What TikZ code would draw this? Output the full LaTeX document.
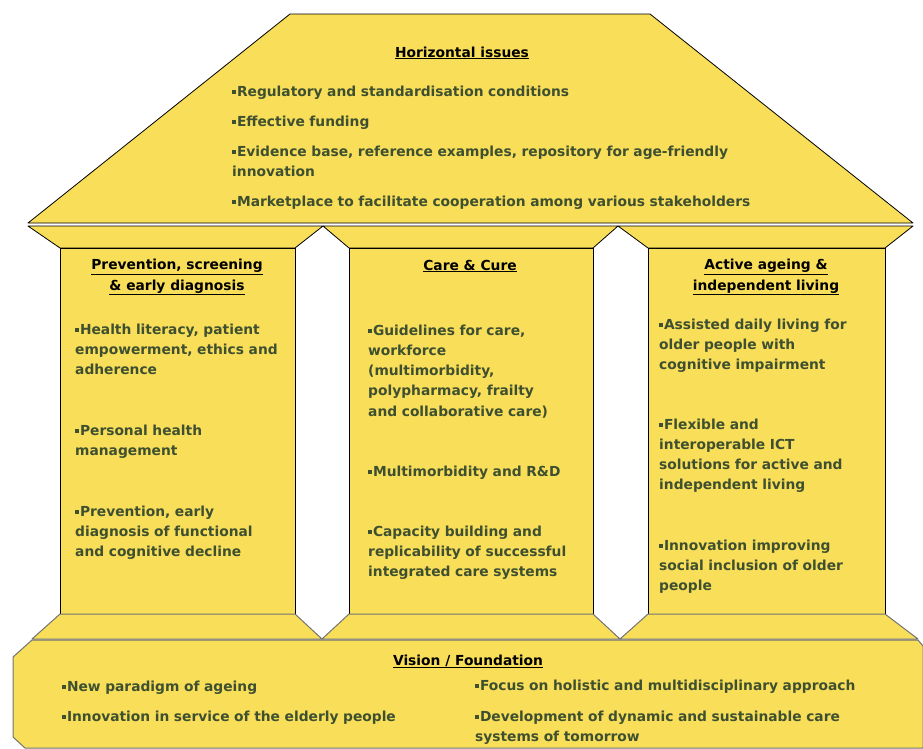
\documentclass[tikz,border=0pt]{standalone}
\usepackage{fontspec}
\setmainfont{DejaVu Sans}
\definecolor{templefill}{RGB}{249,222,89}
\definecolor{itemgreen}{RGB}{62,80,48}
\newcommand{\sqbul}{\rule[0.15em]{0.25em}{0.25em}\hspace{0.1em}}

\begin{document}
\begin{tikzpicture}[x=1pt, y=-1pt,
        part/.style={fill=templefill, draw=black, line width=0.8pt, line join=round},
        base/.style={fill=templefill, draw=black!55, line width=1pt, line join=round}]
        \useasboundingbox (0,0) rectangle (923,748);

        % roof
        \draw[part] (290,14) -- (650,14) -- (913,223) -- (28,223) -- cycle;
        \draw[black!45, line width=0.8pt] (28,226) -- (913,226);
        % capitals
        \draw[part] (28,226) -- (323,226) -- (295,248) -- (60,248) -- cycle;
        \draw[part] (323,226) -- (618,226) -- (593,248) -- (349,248) -- cycle;
        \draw[part] (618,226) -- (913,226) -- (885,248) -- (648,248) -- cycle;
        % pillars
        \draw[part] (60,248) rectangle (295,614);
        \draw[part] (349,248) rectangle (593,614);
        \draw[part] (648,248) rectangle (885,614);
        % plinths
        \draw[base] (60,614) -- (295,614) -- (322,639) -- (32,639) -- cycle;
        \draw[base] (349,614) -- (593,614) -- (620,639) -- (322,639) -- cycle;
        \draw[base] (648,614) -- (885,614) -- (918,639) -- (620,639) -- cycle;
        % foundation
        \draw[base] (32,640) -- (918,640) -- (923,646) -- (923,748) -- (25,748)
            -- (13,737) -- (13,657) -- cycle;

        \begin{scope}[every node/.style={inner sep=0pt, anchor=base, align=center,
                font={\fontsize{13.8pt}{20.5pt}\selectfont\bfseries}, text=black}]
            \node (roofhead) at (462,57) {\underline{Horizontal issues}};
            \node (prevhead) at (177,290) {\underline{Prevention, screening}\\\underline{\& early diagnosis}};
            \node (carehead) at (470,270) {\underline{Care \& Cure}};
            \node (activehead) at (766,290) {\underline{Active ageing \&}\\\underline{independent living}};
            \node (basehead) at (468,665) {\underline{Vision / Foundation}};
        \end{scope}

        \begin{scope}[every node/.style={inner sep=0pt, anchor=base west, align=left,
                text width=600pt, font={\fontsize{13.8pt}{20.3pt}\selectfont\bfseries},
                text=itemgreen}]
            \node (reg) at (232,96) {\sqbul Regulatory and standardisation conditions};
            \node (fund) at (232,126) {\sqbul Effective funding};
            \node (evid) at (232,156) {\sqbul Evidence base, reference examples, repository for age-friendly\\innovation};
            \node (market) at (232,206) {\sqbul Marketplace to facilitate cooperation among various stakeholders};

            \node (lit) at (75,334) {\sqbul Health literacy, patient\\empowerment, ethics and\\adherence};
            \node (phm) at (75,435) {\sqbul Personal health\\management};
            \node (early) at (75,516) {\sqbul Prevention, early\\diagnosis of functional\\and cognitive decline};

            \node (guide) at (368,335) {\sqbul Guidelines for care,\\workforce\\(multimorbidity,\\polypharmacy, frailty\\and collaborative care)};
            \node (rnd) at (368,476) {\sqbul Multimorbidity and R\&D};
            \node (capa) at (368,536) {\sqbul Capacity building and\\replicability of successful\\integrated care systems};

            \node (daily) at (659,329) {\sqbul Assisted daily living for\\older people with\\cognitive impairment};
            \node (ict) at (659,429) {\sqbul Flexible and\\interoperable ICT\\solutions for active and\\independent living};
            \node (incl) at (659,550) {\sqbul Innovation improving\\social inclusion of older\\people};

            \node (parad) at (62,691) {\sqbul New paradigm of ageing};
            \node (serv) at (62,721) {\sqbul Innovation in service of the elderly people};
            \node (holi) at (475,690) {\sqbul Focus on holistic and multidisciplinary approach};
            \node (dyn) at (475,721) {\sqbul Development of dynamic and sustainable care\\systems of tomorrow};
        \end{scope}
    \end{tikzpicture}
\end{document}
